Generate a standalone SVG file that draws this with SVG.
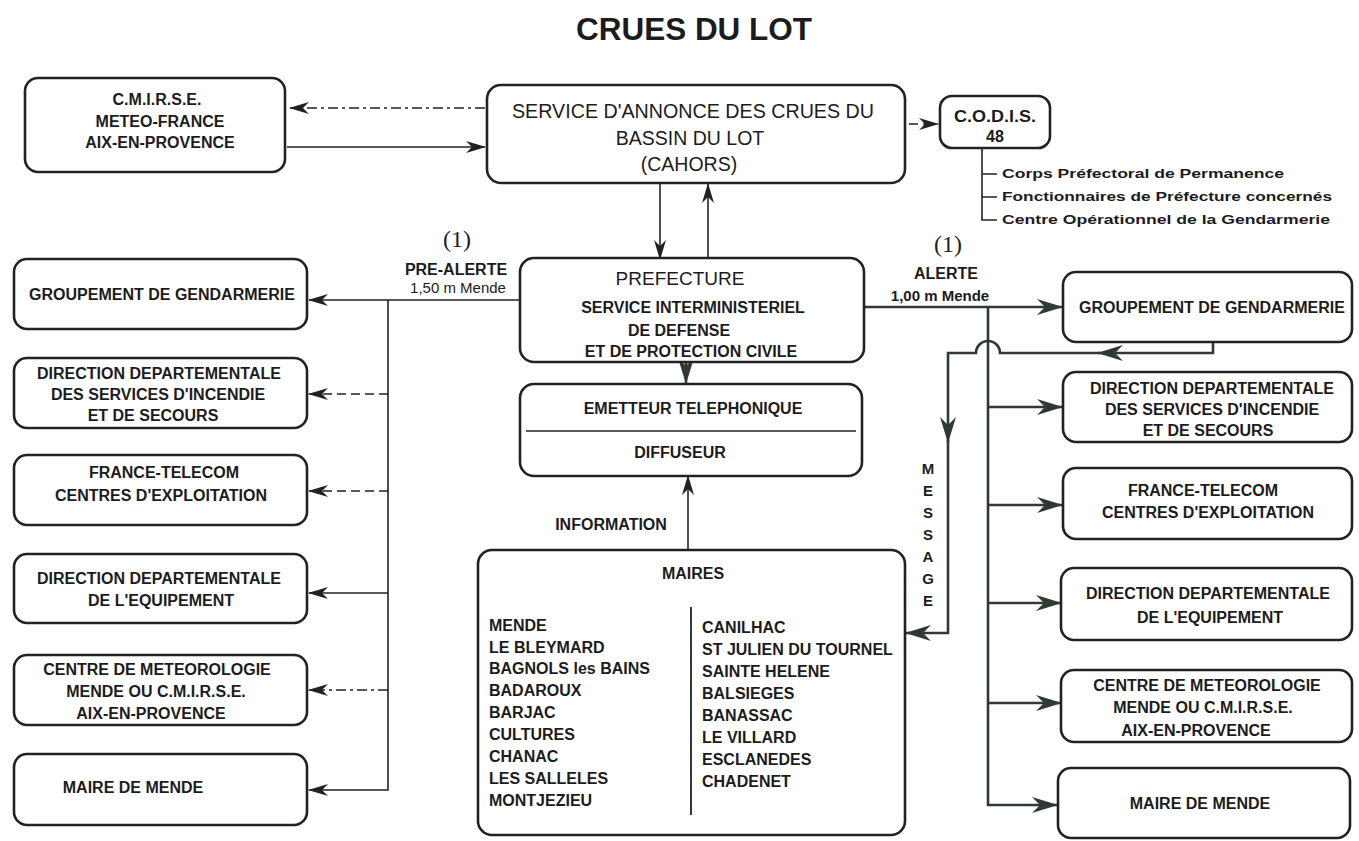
<svg xmlns="http://www.w3.org/2000/svg" width="1359" height="841" viewBox="0 0 1359 841">
<defs>
<style>
.box{fill:#fff;stroke:#222;stroke-width:2.6}
.t{font-family:"Liberation Sans",Arial,sans-serif;font-weight:bold;font-size:16px;fill:#1c1c1c;text-anchor:middle}
.r{font-family:"Liberation Sans",Arial,sans-serif;font-weight:normal;fill:#1c1c1c;text-anchor:middle}
.l{font-family:"Liberation Sans",Arial,sans-serif;font-weight:bold;font-size:16px;fill:#1c1c1c}
.s{font-family:"Liberation Sans",Arial,sans-serif;font-weight:bold;font-size:13px;fill:#1c1c1c}
.p{font-family:"Liberation Serif","Times New Roman",serif;font-size:24px;fill:#222;text-anchor:middle}
.c{fill:none;stroke:#222;stroke-width:1.6}
.cg{fill:none;stroke:#2f3a32;stroke-width:2.6}
.d{stroke-dasharray:9 5}
.dd{stroke-dasharray:10 4 3 4}
</style>
<marker id="a" markerUnits="userSpaceOnUse" markerWidth="20" markerHeight="12" refX="19" refY="6" orient="auto"><path d="M0,0 L20,6 L0,12 L6,6 Z" fill="#222"/></marker>
<marker id="b" markerUnits="userSpaceOnUse" markerWidth="26" markerHeight="16" refX="25" refY="8" orient="auto"><path d="M0,0 L26,8 L0,16 L8,8 Z" fill="#2f3a32"/></marker>
</defs>
<rect width="1359" height="841" fill="#fff"/>
<text x="694" y="40" font-family="Liberation Sans,Arial,sans-serif" font-weight="bold" font-size="32" fill="#1c1c1c" text-anchor="middle" textLength="236" lengthAdjust="spacingAndGlyphs">CRUES DU LOT</text>

<g id="connectors">
<path class="c dd" d="M485,108 H290" marker-end="url(#a)"/>
<path class="c" d="M287,147 H485" marker-end="url(#a)"/>
<path class="c d" d="M909,124 H938" marker-end="url(#a)"/>
<path class="c" d="M982,148 V220 H997 M982,174 H997 M982,197 H997"/>
<path class="c" d="M660,183 V259" marker-end="url(#a)"/>
<path class="c" d="M708,259 V184" marker-end="url(#a)"/>
<path class="c" d="M520,300 H309" marker-end="url(#a)"/>
<path class="c" d="M388,300 V790 H309" marker-end="url(#a)"/>
<path class="c d" d="M388,394 H309" marker-end="url(#a)"/>
<path class="c d" d="M388,491 H309" marker-end="url(#a)"/>
<path class="c" d="M388,593 H309" marker-end="url(#a)"/>
<path class="c dd" d="M388,690 H309" marker-end="url(#a)"/>
<path class="cg" d="M864,307 H1062" marker-end="url(#b)"/>
<path class="cg" d="M988,307 V805 H1057" marker-end="url(#b)"/>
<path class="cg" d="M988,407 H1062" marker-end="url(#b)"/>
<path class="cg" d="M988,505 H1062" marker-end="url(#b)"/>
<path class="cg" d="M988,603 H1061" marker-end="url(#b)"/>
<path class="cg" d="M988,703 H1061" marker-end="url(#b)"/>
<path class="cg" d="M1213,343 V353 H1098" marker-end="url(#b)"/>
<path class="cg" d="M1100,353 H1000 A12,12 0 0 0 976,353 H948 V442" marker-end="url(#b)"/>
<path class="cg" d="M948,440 V633 H906" marker-end="url(#b)"/>
<path class="cg" d="M686,362 V383" marker-end="url(#b)"/>
<path class="c" d="M688,549 V476" marker-end="url(#a)"/>
</g>

<text class="p" x="457" y="247">(1)</text>
<text class="t" x="456" y="275">PRE-ALERTE</text>
<text class="t" x="458" y="293" style="font-size:15px;font-weight:normal">1,50 m Mende</text>
<text class="p" x="948" y="252">(1)</text>
<text class="t" x="946" y="279">ALERTE</text>
<text class="t" x="940" y="301" style="font-size:15px">1,00 m Mende</text>
<text class="t" x="611" y="530">INFORMATION</text>
<g id="message" class="t" style="font-size:15px">
<text x="928" y="474">M</text><text x="928" y="496">E</text><text x="928" y="518">S</text><text x="928" y="540">S</text><text x="928" y="562">A</text><text x="928" y="584">G</text><text x="928" y="606">E</text>
</g>

<g id="cmirse">
<rect class="box" x="25" y="78" width="260" height="94" rx="13"/>
<text class="t" x="157" y="105">C.M.I.R.S.E.</text>
<text class="t" x="160" y="127">METEO-FRANCE</text>
<text class="t" x="160" y="148">AIX-EN-PROVENCE</text>
</g>

<g id="sac">
<rect class="box" x="487" y="85" width="418" height="98" rx="14"/>
<text class="r" x="693" y="118" font-size="19.5" textLength="362" lengthAdjust="spacingAndGlyphs">SERVICE D'ANNONCE DES CRUES DU</text>
<text class="r" x="690" y="145" font-size="19.5">BASSIN DU LOT</text>
<text class="r" x="689" y="171" font-size="19.5">(CAHORS)</text>
</g>

<g id="codis">
<rect class="box" x="940" y="96" width="110" height="52" rx="12"/>
<text class="t" x="995" y="122" textLength="82" lengthAdjust="spacingAndGlyphs">C.O.D.I.S.</text>
<text class="t" x="995" y="142">48</text>
</g>
<g id="codis-list">
<text class="s" x="1002" y="178" textLength="282" lengthAdjust="spacingAndGlyphs">Corps Préfectoral de Permanence</text>
<text class="s" x="1002" y="201" textLength="330" lengthAdjust="spacingAndGlyphs">Fonctionnaires de Préfecture concernés</text>
<text class="s" x="1002" y="224" textLength="328" lengthAdjust="spacingAndGlyphs">Centre Opérationnel de la Gendarmerie</text>
</g>

<g id="prefecture">
<rect class="box" x="520" y="258" width="344" height="104" rx="14"/>
<text class="r" x="680" y="285" font-size="19">PREFECTURE</text>
<text class="t" x="693" y="313">SERVICE INTERMINISTERIEL</text>
<text class="t" x="679" y="336">DE DEFENSE</text>
<text class="t" x="691" y="357">ET DE PROTECTION CIVILE</text>
</g>

<g id="emetteur">
<rect class="box" x="520" y="384" width="342" height="92" rx="14"/>
<line x1="526" y1="431" x2="856" y2="431" stroke="#222" stroke-width="1.6"/>
<text class="t" x="693" y="414">EMETTEUR TELEPHONIQUE</text>
<text class="t" x="680" y="458">DIFFUSEUR</text>
</g>

<g id="maires">
<rect class="box" x="478" y="550" width="427" height="285" rx="14"/>
<text class="t" x="693" y="579">MAIRES</text>
<line x1="691" y1="607" x2="691" y2="815" stroke="#222" stroke-width="1.8"/>
<g class="l">
<text x="489" y="631">MENDE</text>
<text x="489" y="653">LE BLEYMARD</text>
<text x="489" y="674">BAGNOLS les BAINS</text>
<text x="489" y="696">BADAROUX</text>
<text x="489" y="718">BARJAC</text>
<text x="489" y="740">CULTURES</text>
<text x="489" y="762">CHANAC</text>
<text x="489" y="784">LES SALLELES</text>
<text x="489" y="806">MONTJEZIEU</text>
<text x="702" y="633">CANILHAC</text>
<text x="702" y="655">ST JULIEN DU TOURNEL</text>
<text x="702" y="677">SAINTE HELENE</text>
<text x="702" y="699">BALSIEGES</text>
<text x="702" y="721">BANASSAC</text>
<text x="702" y="743">LE VILLARD</text>
<text x="702" y="765">ESCLANEDES</text>
<text x="702" y="787">CHADENET</text>
</g>
</g>

<g id="l-gendarmerie">
<rect class="box" x="14" y="259" width="293" height="70" rx="13"/>
<text class="t" x="162" y="300">GROUPEMENT DE GENDARMERIE</text>
</g>
<g id="l-ddsis">
<rect class="box" x="14" y="358" width="293" height="70" rx="13"/>
<text class="t" x="159" y="379">DIRECTION DEPARTEMENTALE</text>
<text class="t" x="158" y="400">DES SERVICES D'INCENDIE</text>
<text class="t" x="153" y="421">ET DE SECOURS</text>
</g>
<g id="l-telecom">
<rect class="box" x="14" y="455" width="293" height="70" rx="13"/>
<text class="t" x="164" y="478">FRANCE-TELECOM</text>
<text class="t" x="161" y="501">CENTRES D'EXPLOITATION</text>
</g>
<g id="l-dde">
<rect class="box" x="14" y="554" width="293" height="69" rx="13"/>
<text class="t" x="159" y="584">DIRECTION DEPARTEMENTALE</text>
<text class="t" x="161" y="606">DE L'EQUIPEMENT</text>
</g>
<g id="l-meteo">
<rect class="box" x="14" y="655" width="293" height="70" rx="13"/>
<text class="t" x="157" y="675">CENTRE DE METEOROLOGIE</text>
<text class="t" x="156" y="697">MENDE OU C.M.I.R.S.E.</text>
<text class="t" x="151" y="719">AIX-EN-PROVENCE</text>
</g>
<g id="l-maire">
<rect class="box" x="14" y="754" width="293" height="71" rx="13"/>
<text class="t" x="133" y="793">MAIRE DE MENDE</text>
</g>

<g id="r-gendarmerie">
<rect class="box" x="1063" y="272" width="289" height="70" rx="13"/>
<text class="t" x="1212" y="313">GROUPEMENT DE GENDARMERIE</text>
</g>
<g id="r-ddsis">
<rect class="box" x="1063" y="372" width="289" height="70" rx="13"/>
<text class="t" x="1212" y="394">DIRECTION DEPARTEMENTALE</text>
<text class="t" x="1212" y="415">DES SERVICES D'INCENDIE</text>
<text class="t" x="1208" y="436">ET DE SECOURS</text>
</g>
<g id="r-telecom">
<rect class="box" x="1063" y="468" width="289" height="71" rx="13"/>
<text class="t" x="1203" y="496">FRANCE-TELECOM</text>
<text class="t" x="1208" y="518">CENTRES D'EXPLOITATION</text>
</g>
<g id="r-dde">
<rect class="box" x="1061" y="568" width="291" height="72" rx="13"/>
<text class="t" x="1208" y="599">DIRECTION DEPARTEMENTALE</text>
<text class="t" x="1210" y="623">DE L'EQUIPEMENT</text>
</g>
<g id="r-meteo">
<rect class="box" x="1061" y="670" width="291" height="72" rx="13"/>
<text class="t" x="1207" y="691">CENTRE DE METEOROLOGIE</text>
<text class="t" x="1203" y="713">MENDE OU C.M.I.R.S.E.</text>
<text class="t" x="1196" y="736">AIX-EN-PROVENCE</text>
</g>
<g id="r-maire">
<rect class="box" x="1058" y="768" width="292" height="70" rx="13"/>
<text class="t" x="1200" y="809">MAIRE DE MENDE</text>
</g>
</svg>
